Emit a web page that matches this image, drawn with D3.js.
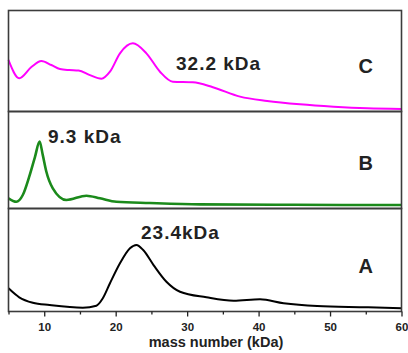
<!DOCTYPE html>
<html lang="en">
<head>
<meta charset="utf-8">
<title>mass number</title>
<script src="https://d3js.org/d3.v7.min.js"></script>
<style>
  html, body { margin: 0; padding: 0; background: #fff; }
  text { font-family: Arial, "Liberation Sans", sans-serif; font-weight: bold; fill: #222; }
  .frame { fill: none; stroke: #3c3c3c; stroke-width: 1.6px; }
  .axis path, .axis line { stroke: #222; stroke-width: 1.3px; }
  .axis text { font-size: 11.5px; }
  path.trace { fill: none; stroke-linejoin: round; }
</style>
</head>
<body>
<script>
// x tick values and panel labels
var majorTicks = [10, 20, 30, 40, 50, 60];
var minorTicks = [5, 15, 25, 35, 45, 55];
var panelNames = ["C", "B", "A"];
var peakLabels = ["32.2 kDa", "9.3 kDa", "23.4kDa"];

// traces (mass in kDa, intensity in a.u. of the panel)
var massC = [5, 6.5, 8.2, 9.6, 11, 12.2, 13.5, 14.8, 16.4, 18.0, 19.2, 20.6, 22.4, 24.3, 26.2, 28.0, 30.8, 33.6, 37.4, 41.2, 45.8, 50.5, 55.2, 60];
var intC  = [0.51, 0.33, 0.44, 0.50, 0.46, 0.42, 0.41, 0.405, 0.36, 0.325, 0.394, 0.576, 0.675, 0.576, 0.394, 0.295, 0.289, 0.24, 0.147, 0.104, 0.071, 0.048, 0.032, 0.025];

var massB = [5, 6.1, 7.0, 7.9, 8.7, 9.35, 9.8, 10.3, 11.2, 13.1, 15.9, 17.8, 20.1, 24.8, 31.8, 45, 60];
var intB  = [0.105, 0.07, 0.139, 0.328, 0.53, 0.689, 0.55, 0.379, 0.208, 0.088, 0.132, 0.105, 0.07, 0.057, 0.043, 0.038, 0.036];

var massA = [5, 6.5, 8.4, 10.75, 15.4, 17.3, 18.2, 19.2, 20.6, 22.0, 22.9, 23.85, 25.3, 27.1, 29.0, 32.7, 36.5, 40.2, 43.5, 48.2, 55.2, 60];
var intA  = [0.225, 0.138, 0.085, 0.063, 0.037, 0.056, 0.128, 0.274, 0.468, 0.614, 0.646, 0.597, 0.451, 0.289, 0.192, 0.138, 0.105, 0.118, 0.08, 0.053, 0.041, 0.031];

var traceColors = ["#ff00ff", "#1b8a1b", "#000000"];

var left = 8.5, right = 401.5;
var panelTops = [10.5, 111.5, 208.5];
var panelBottoms = [111.5, 208.5, 311.5];

var svg = d3.select("body").append("svg").attr("width", 408).attr("height", 353);

var x = d3.scaleLinear().domain([5, 60]).range([left, right]);

var traces = [
  d3.zip(massC, intC),
  d3.zip(massB, intB),
  d3.zip(massA, intA)
];

traces.forEach(function(data, i) {
  var y = d3.scaleLinear().domain([0, 1]).range([panelBottoms[i], panelTops[i]]);
  var line = d3.line()
    .x(function(d) { return x(d[0]); })
    .y(function(d) { return y(d[1]); })
    .curve(d3.curveMonotoneX);

  svg.append("path")
    .attr("class", "trace")
    .attr("d", line(data))
    .attr("stroke", traceColors[i])
    .attr("stroke-width", i == 1 ? 2.6 : 2);

  svg.append("rect")
    .attr("class", "frame")
    .attr("x", left).attr("y", panelTops[i])
    .attr("width", right - left).attr("height", panelBottoms[i] - panelTops[i]);

  svg.append("text")
    .attr("x", 373).attr("y", [72.5, 170, 272.5][i])
    .attr("text-anchor", "end")
    .style("font-size", "20px")
    .text(panelNames[i]);
});

// peak annotations
var peakPos = [[176, 70], [48, 143], [141, 239]];
peakLabels.forEach(function(t, i) {
  svg.append("text")
    .attr("x", peakPos[i][0]).attr("y", peakPos[i][1])
    .style("font-size", "19px")
    .style("letter-spacing", "1px")
    .text(t);
});

// bottom axis
svg.append("g")
  .attr("class", "axis")
  .attr("transform", "translate(0," + panelBottoms[2] + ")")
  .call(d3.axisBottom(x).tickValues(minorTicks).tickSize(3).tickFormat(""))
  .call(function(g) { g.select(".domain").remove(); });

svg.append("g")
  .attr("class", "axis")
  .attr("transform", "translate(0," + panelBottoms[2] + ")")
  .call(d3.axisBottom(x).tickValues(majorTicks).tickSize(5).tickSizeOuter(0).tickPadding(6))
  .call(function(g) { g.select(".domain").remove(); });

svg.append("text")
  .attr("x", 216).attr("y", 347)
  .attr("text-anchor", "middle")
  .style("font-size", "14.5px")
  .text("mass number (kDa)");
</script>
</body>
</html>
